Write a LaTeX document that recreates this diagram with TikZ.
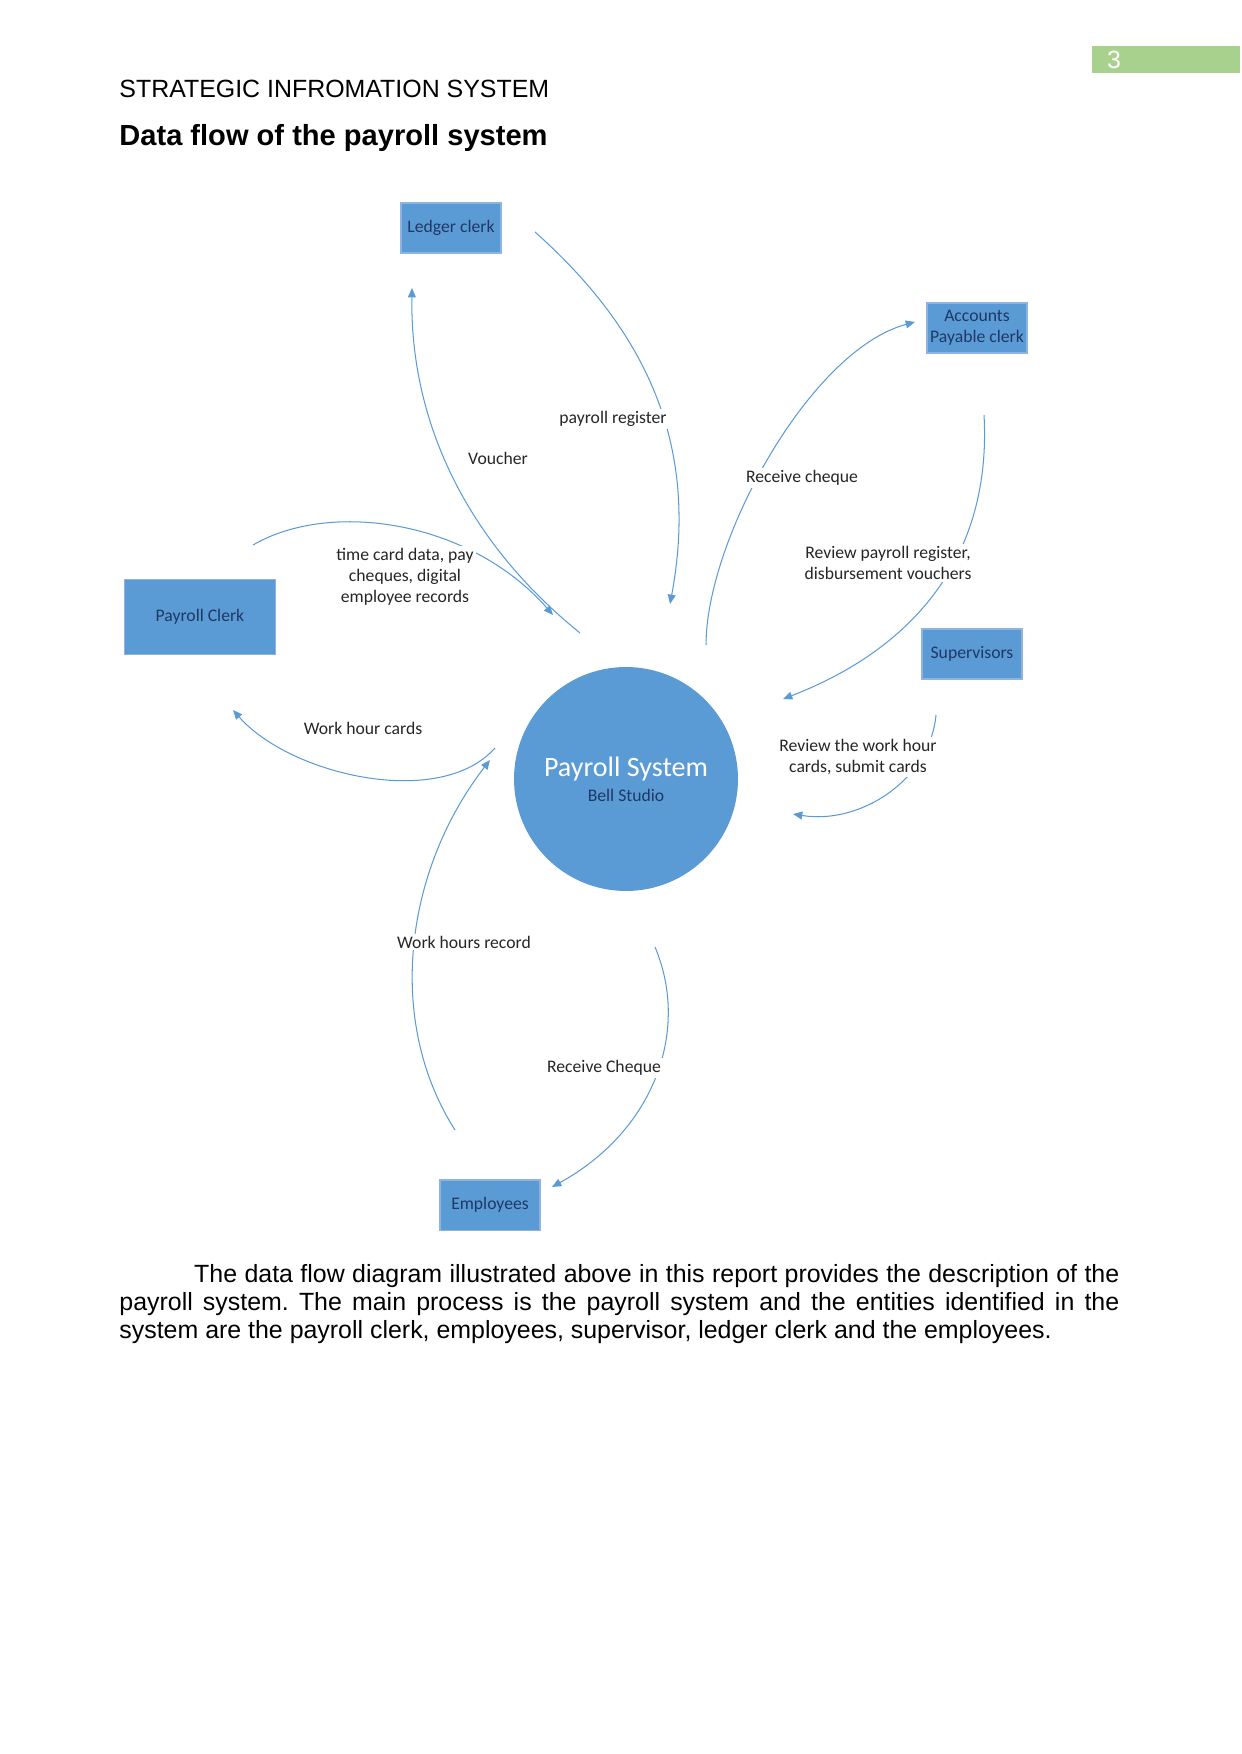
\documentclass[tikz,border=0pt]{standalone}
\usepackage{fontspec}
\setmainfont{Liberation Sans}
\newfontfamily\calibri{Carlito}
\usepackage{xcolor}
\usetikzlibrary{arrows.meta, positioning}
\frenchspacing

\definecolor{boxblue}{HTML}{5B9BD5}
\definecolor{boxedge}{HTML}{8FB3DE}
\definecolor{navytext}{HTML}{1F3864}
\definecolor{flowblue}{HTML}{5B9BD5}
\definecolor{pagegreen}{HTML}{A9D18E}

\begin{document}
\begin{tikzpicture}[
    x=0.16922mm, y=0.16922mm,
    entity/.style={draw=boxedge, line width=0.6pt, fill=boxblue, rectangle, minimum width=16.9mm, minimum height=8.5mm, align=center, text=navytext, font=\calibri\fontsize{8.5pt}{10pt}\selectfont, inner sep=1pt},
    process/.style={circle, fill=boxblue, minimum size=37.9mm, align=center, inner sep=0pt, font=\calibri},
    flow/.style={-{Triangle[length=4.5pt, width=3.8pt]}, draw=flowblue, line width=0.5pt},
    flowlabel/.style={align=center, fill=white, inner sep=1pt, text=black!85, font=\calibri\fontsize{8.5pt}{10.2pt}\selectfont}
]
\useasboundingbox (0,0) rectangle (1241,-1754);

% page header
\node[fill=pagegreen, anchor=north west, minimum width=25.05mm, minimum height=4.57mm, inner sep=0pt] (pagebox) at (1092,-46) {};
\node[text=white, inner sep=0pt, font=\fontsize{12pt}{14pt}\selectfont] (pagenum) at (1114,-60) {3};
\node[anchor=base west, inner sep=0pt, font=\fontsize{12pt}{14pt}\selectfont] (header) at (119,-98) {STRATEGIC INFROMATION SYSTEM};
\node[anchor=base west, inner sep=0pt, font=\bfseries\fontsize{14pt}{16pt}\selectfont] (title) at (119,-146) {Data flow of the payroll system};

% process and entities
\node[process] (payroll) at (626,-779) {\fontsize{13.5pt}{16pt}\selectfont\color{white}Payroll System\\ \fontsize{8.5pt}{12.5pt}\selectfont\color{navytext}Bell Studio};
\node[entity] (ledger) at (451,-228) {Ledger clerk};
\node[entity] (payable) at (977,-328) {Accounts\\Payable clerk};
\node[entity] (super) at (972,-654) {Supervisors};
\node[entity, minimum width=25.5mm, minimum height=12.7mm] (pclerk) at (200,-617) {Payroll Clerk};
\node[entity] (employees) at (490,-1205) {Employees};

% free ends of the flows
\coordinate (ledger-out) at (535,-232);
\coordinate (register-in) at (670,-604);
\coordinate (voucher-out) at (580,-633);
\coordinate (ledger-in) at (412,-288);
\coordinate (pclerk-out) at (253,-545);
\coordinate (timecard-in) at (553,-615);
\coordinate (cards-out) at (495,-748);
\coordinate (pclerk-in) at (233,-710);
\coordinate (employees-out) at (455,-1130);
\coordinate (hours-in) at (490,-760);
\coordinate (cheque-out) at (655,-947);
\coordinate (employees-in) at (552,-1187);
\coordinate (payable-out) at (706,-645);
\coordinate (payable-in) at (915,-322);
\coordinate (review-out) at (984,-415);
\coordinate (review-in) at (783,-699);
\coordinate (super-out) at (936,-715);
\coordinate (super-in) at (793,-814);

% flows
\draw[flow] (ledger-out) .. controls +(110,-98) and +(30,160) .. (register-in);
\draw[flow] (voucher-out) .. controls +(-115,93) and +(-2,-132) .. (ledger-in);
\draw[flow] (pclerk-out) .. controls +(77,45) and +(-83,95) .. (timecard-in);
\draw[flow] (cards-out) .. controls +(-55,-62) and +(57,-65) .. (pclerk-in);
\draw[flow] (employees-out) .. controls +(-70,110) and +(-85,-110) .. (hours-in);
\draw[flow] (cheque-out) .. controls +(35,-83) and +(103,57) .. (employees-in);
\draw[flow] (payable-out) .. controls +(0,105) and +(-105,-28) .. (payable-in);
\draw[flow] (review-out) .. controls +(8,-145) and +(127,49) .. (review-in);
\draw[flow] (super-out) .. controls +(-6,-65) and +(67,-11) .. (super-in);

% flow labels
\node[flowlabel] (lbl-register) at (613,-419) {payroll register};
\node[flowlabel] (lbl-voucher) at (498,-458) {Voucher};
\node[flowlabel] (lbl-timecard) at (405,-577) {time card data, pay\\cheques, digital\\employee records};
\node[flowlabel] (lbl-cards) at (363,-728) {Work hour cards};
\node[flowlabel] (lbl-hours) at (464,-942) {Work hours record};
\node[flowlabel] (lbl-cheque) at (604,-1068) {Receive Cheque};
\node[flowlabel] (lbl-payable) at (802,-478) {Receive cheque};
\node[flowlabel] (lbl-review) at (888,-563) {Review payroll register,\\disbursement vouchers};
\node[flowlabel] (lbl-super) at (858,-757) {Review the work hour\\cards, submit cards};

% body text
\node[anchor=north west, text width=169.2mm, align=justify, inner sep=0pt, font=\fontsize{12pt}{13.45pt}\selectfont] (body) at (119,-1264) {\hspace*{36pt}The data flow diagram illustrated above in this report provides the description of the\linebreak payroll system. The main process is the payroll system and the entities identified in the\linebreak system are the payroll clerk, employees, supervisor, ledger clerk and the employees.};

\end{tikzpicture}
\end{document}
